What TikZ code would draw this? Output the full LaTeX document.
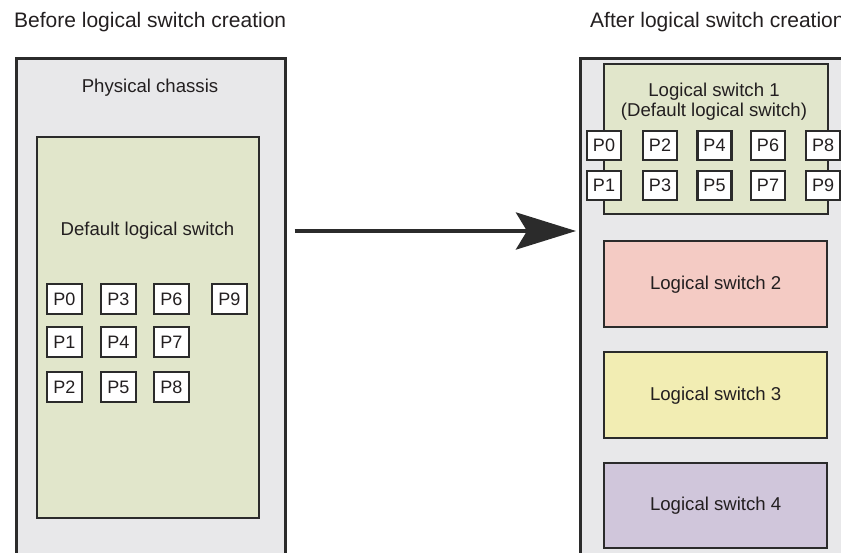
\documentclass[tikz,border=0pt]{standalone}
\usepackage{fontspec}
\setmainfont{Liberation Sans}
\usetikzlibrary{arrows.meta,calc}
\definecolor{chassisgray}{HTML}{E8E8EA}
\definecolor{bordergray}{HTML}{2B2B2B}
\definecolor{lsgreen}{HTML}{E1E6CB}
\definecolor{lspink}{HTML}{F4CBC4}
\definecolor{lsyellow}{HTML}{F2EDB3}
\definecolor{lspurple}{HTML}{D0C6DB}
\definecolor{txt}{HTML}{231F20}
\tikzset{
  chassis/.style={draw=bordergray, fill=chassisgray, line width=2.7pt, anchor=north west, inner sep=0pt},
  lsbox/.style={draw=bordergray, line width=2.4pt, anchor=north west, inner sep=0pt},
  port/.style={draw=bordergray, fill=white, line width=2.2pt, inner sep=0pt, font=\fontsize{18}{20}\selectfont, text=txt},
  lport/.style={port, minimum width=35pt, minimum height=30pt},
  rport/.style={port, minimum width=34pt, minimum height=29pt},
  lbl/.style={font=\fontsize{18.6}{21}\selectfont, text=txt, inner sep=0pt},
  title/.style={font=\fontsize{21}{24}\selectfont, text=txt, inner sep=0pt, anchor=base west},
  bigarrow/.style={draw=bordergray, line width=4.5pt, -{Stealth[length=60pt,width=37pt,inset=11pt]}}
}
\begin{document}
\begin{tikzpicture}[x=1pt,y=-1pt]
\useasboundingbox (0,0) rectangle (841,552);
\clip (0,0) rectangle (841,552);
% titles
\node[title] (tb) at (14,27) {Before logical switch creation};
\node[title] (ta) at (590,27) {After logical switch creation};
% left chassis
\node[chassis, minimum width=269pt, minimum height=520pt] (lch) at (15,57) {};
\node[lbl, anchor=base] (pcl) at (150,92) {Physical chassis};
\node[lsbox, fill=lsgreen, minimum width=222pt, minimum height=381pt] (dls) at (36,136) {};
\node[lbl] (dlsl) at (147.5,231) {Default logical switch};
\node[lport] (l0) at (64.5,299) {P0};
\node[lport] (l3) at (118.5,299) {P3};
\node[lport] (l6) at (171.5,299) {P6};
\node[lport] (l9) at (229.5,299) {P9};
\node[lport] (l1) at (64.5,342) {P1};
\node[lport] (l4) at (118.5,342) {P4};
\node[lport] (l7) at (171.5,342) {P7};
\node[lport] (l2) at (64.5,387) {P2};
\node[lport] (l5) at (118.5,387) {P5};
\node[lport] (l8) at (171.5,387) {P8};
% right chassis
\node[chassis, minimum width=290pt, minimum height=520pt] (rch) at (579,57) {};
\node[lsbox, fill=lsgreen, minimum width=224pt, minimum height=150pt] (ls1) at (603,63) {};
\node[lbl, align=center, font=\fontsize{18.6}{20}\selectfont] (ls1l) at (714,102) {Logical switch 1\\(Default logical switch)};
\node[rport] (r0) at (604,145.5) {P0};
\node[rport] (r2) at (660,145.5) {P2};
\node[rport] (r4) at (714.5,145.5) {P4};
\node[rport] (r6) at (768,145.5) {P6};
\node[rport] (r8) at (823,145.5) {P8};
\node[rport] (r1) at (604,185.5) {P1};
\node[rport] (r3) at (660,185.5) {P3};
\node[rport] (r5) at (714.5,185.5) {P5};
\node[rport] (r7) at (768,185.5) {P7};
\node[rport] (r9) at (823,185.5) {P9};
\node[lsbox, fill=lspink, minimum width=223pt, minimum height=86pt] (ls2) at (603,240) {};
\node[lbl] (ls2l) at (ls2.center) {Logical switch 2};
\node[lsbox, fill=lsyellow, minimum width=223pt, minimum height=86pt] (ls3) at (603,351) {};
\node[lbl] (ls3l) at (ls3.center) {Logical switch 3};
\node[lsbox, fill=lspurple, minimum width=223pt, minimum height=85pt] (ls4) at (603,462) {};
\node[lbl] (ls4l) at (ls4.center) {Logical switch 4};
% arrow
\draw[bigarrow, shorten <=8pt, shorten >=3pt] (lch.east |- dlsl.center) -- (rch.west |- dlsl.center);
\end{tikzpicture}
\end{document}
